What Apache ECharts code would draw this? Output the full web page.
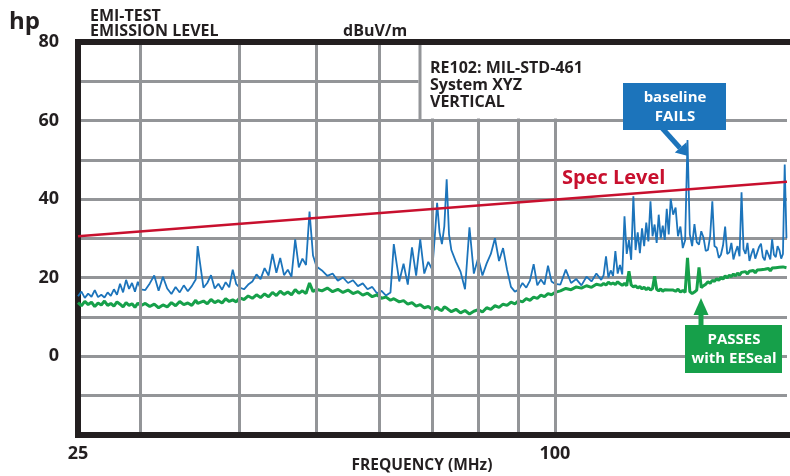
<!DOCTYPE html>
<html><head><meta charset="utf-8">
<script src="https://cdn.jsdelivr.net/npm/echarts@6/dist/echarts.min.js"></script>
<style>html,body{margin:0;padding:0;background:#fff}#c{width:790px;height:476px}</style>
</head><body><div id="c"></div>
<script>
// Frequency sample points (MHz)
const freqMHz = [
  25, 25.25, 25.5, 25.75, 26, 26.25, 26.5, 26.75, 27, 27.25, 27.5, 27.75, 28, 28.25, 28.5, 28.75, 29, 29.25, 29.5, 29.75, 30,
  30.4, 30.8, 31.2, 31.6, 32, 32.4, 32.8, 33.2, 33.6, 34, 34.4, 34.8, 35.2, 35.4, 36, 36.4, 36.8, 37.2, 37.6, 38, 38.4, 38.8, 39.2, 39.6, 40,
  40.5, 41, 41.5, 42, 42.5, 43, 43.5, 44, 44.5, 45, 45.5, 46, 46.5, 47, 47.5, 48, 48.5, 49, 49.5, 50,
  50.8, 51.6, 52.4, 53.2, 54, 54.8, 55.6, 56.4, 57.2, 58, 58.8, 59.6, 60.4, 61.2, 62, 62.6, 63.6, 64.4, 65.2, 66, 66.8, 67.6, 68.4, 69.2, 70,
  70.5, 71, 71.5, 72, 72.5, 73, 73.5, 74, 75, 76, 77, 78, 79, 80, 81, 82, 83, 84, 85, 86, 87, 88, 89, 90, 91, 92, 93, 94, 95, 96, 97, 98, 99, 100,
  101.6, 103.2, 104.8, 106.4, 108, 109.6, 111.2, 112.8, 114.4,
  115.2, 116, 116.8, 117.6, 118.4, 119.2, 120, 120.8, 121.6, 122.4, 123.2, 124, 124.8, 125.6, 126.4, 127.2,
  128, 128.8, 129.6, 130.4, 131.2, 132, 132.8, 133.6, 134.4, 135.2, 136, 136.8, 137.6, 138.4, 139.2, 140,
  141, 142, 143, 144, 145, 146, 147, 148, 149, 150, 151, 152, 153, 154, 155, 156, 157, 158, 159, 160,
  161, 162, 163, 164, 165, 166, 167, 168, 169, 170, 171, 172, 173, 174, 175, 176, 177, 178, 179, 180,
  181, 182, 183, 184, 185, 186, 187, 188, 189, 190, 191, 192, 193, 194, 195, 196
];
// Baseline emission (blue, dBuV/m)
const baselineDb = [
  15.2, 16.4, 14.8, 15.9, 15.1, 16.8, 15.0, 15.6, 14.9, 16.2, 15.3, 17.0, 15.6, 18.4, 16.2, 19.4, 17.1, 18.6, 16.4, 18.9, 17.0,
  16.8, 18.5, 20.5, 16.6, 20.2, 17.2, 15.8, 17.6, 16.2, 18.0, 16.5, 17.8, 19.5, 28.0, 17.4, 18.6, 20.6, 17.2, 18.4, 16.9, 18.8, 17.5, 22.0, 18.3, 17.4,
  17.0, 18.2, 19.0, 20.8, 19.6, 22.4, 20.5, 26.0, 21.2, 25.0, 20.6, 22.0, 20.2, 29.7, 22.6, 24.8, 23.2, 36.8, 25.6, 22.8,
  21.8, 20.4, 21.0, 19.2, 20.0, 18.6, 19.3, 17.8, 18.5, 17.0, 17.6, 16.0, 16.6, 15.4, 16.2, 28.5, 19.0, 23.5, 18.2, 27.7, 20.5, 29.7, 21.0, 24.0, 22.0,
  30.0, 39.0, 31.5, 28.5, 33.0, 45.0, 31.0, 27.0, 24.0, 21.5, 17.0, 32.8, 21.0, 25.0, 20.5, 23.6, 26.0, 30.0, 24.2, 27.5, 22.0, 17.6, 16.4, 16.9, 18.6, 17.4, 19.2, 23.4, 18.0, 19.5, 18.2, 23.0, 19.0, 18.4,
  18.2, 22.0, 18.6, 19.6, 18.0, 20.2, 19.0, 21.0, 19.4,
  20.6, 25.4, 20.0, 21.8, 20.4, 26.7, 21.0, 23.2, 20.8, 35.6, 26.0, 29.5, 24.5, 40.7, 27.0, 31.5,
  26.2, 32.5, 28.0, 34.0, 29.2, 39.4, 30.5, 33.5, 28.8, 36.0, 30.0, 33.2, 29.6, 37.5, 31.0, 40.0,
  36.0, 37.8, 30.5, 33.0, 27.5, 29.5, 55.0, 31.0, 28.0, 33.6, 29.0, 28.4, 31.8, 30.2, 26.8, 27.0, 30.5, 39.4, 28.0, 27.6,
  25.0, 25.8, 28.2, 33.0, 26.0, 26.4, 28.8, 24.6, 26.5, 28.0, 25.4, 41.7, 27.2, 26.0, 28.8, 24.2, 26.0, 27.4, 24.8, 25.0,
  27.8, 28.6, 25.2, 24.4, 27.0, 26.8, 24.6, 29.7, 25.8, 25.2, 28.0, 27.0, 24.8, 26.0, 48.8, 30.0
];
// Emission with EESeal (green, dBuV/m)
const eesealDb = [
  13.6, 12.8, 13.9, 13.1, 13.7, 12.6, 13.5, 13.0, 14.0, 12.9, 13.4, 12.7, 13.8, 13.2, 12.5, 13.6, 12.9, 13.3, 12.4, 13.5, 12.8,
  13.4, 12.6, 13.2, 12.3, 13.0, 12.5, 13.6, 12.8, 13.9, 13.1, 13.5, 12.9, 14.2, 13.4, 14.0, 13.3, 14.4, 13.6, 14.1, 13.5, 14.6, 13.9, 14.3, 13.8, 14.8,
  14.4, 15.3, 14.7, 15.6, 14.9, 15.8, 15.1, 16.2, 15.4, 16.5, 15.7, 16.3, 15.6, 16.9, 16.0, 16.6, 15.9, 18.6, 16.4, 17.0,
  16.6, 17.3, 16.4, 17.0, 16.2, 16.8, 15.9, 16.4, 15.5, 16.0, 15.1, 15.6, 14.7, 15.0, 14.2, 14.6, 13.8, 14.1, 13.2, 13.6, 12.7, 13.1, 12.3, 12.6, 11.9,
  12.0, 12.4, 11.8, 11.6, 12.5, 12.2, 11.7, 11.3, 11.9, 11.0, 11.6, 10.7, 11.4, 11.8, 11.2, 12.3, 11.9, 12.8, 12.4, 13.2, 12.9, 13.7, 13.3, 14.1, 13.8, 14.6, 14.2, 15.0, 14.7, 15.5, 15.1, 15.9, 15.6, 16.2,
  16.6, 17.2, 16.9, 17.6, 17.3, 17.9, 17.5, 18.3, 18.0,
  18.5, 18.1, 18.8, 18.3, 18.6, 18.2, 18.9, 18.4, 18.0, 18.5, 17.9, 21.6, 18.1, 17.6, 17.9, 17.3,
  17.7, 17.1, 17.5, 16.9, 17.4, 16.8, 17.2, 20.3, 17.0, 16.6, 17.1, 16.5, 16.9, 16.4, 16.8, 16.3,
  16.8, 16.5, 17.0, 16.3, 16.7, 16.2, 25.0, 16.4, 15.9, 16.3, 16.8, 22.6, 17.4, 17.9, 18.3, 18.9, 18.5, 19.3, 19.0, 19.7,
  19.3, 20.0, 19.6, 20.4, 19.9, 20.6, 20.2, 20.9, 20.4, 21.1, 20.6, 21.3, 20.8, 21.5, 20.9, 21.6, 21.1, 21.8, 21.2, 21.9,
  21.4, 22.0, 21.5, 22.1, 21.6, 22.3, 21.7, 22.4, 21.9, 22.5, 22.0, 22.6, 22.1, 22.7, 22.2, 22.5
];
// Spec limit line
const specFreq = [25, 196.3];
const specDb = [30.5, 44.4];
// Axis ticks
const yTickLabels = [0, 20, 40, 60, 80];
const xTickLabels = [25, 100];
const gridFreqs = [30, 40, 50, 60, 70, 80, 90, 100];

const BLACK = '#231f20', GRAY = '#939598';
const BLUE = '#1c74bb', GREEN = '#16a04a', RED = '#c8102e';
const FONT = '"Open Sans", "DejaVu Sans", sans-serif';

const chart = echarts.init(document.getElementById('c'), null, {renderer: 'canvas'});

function txt(x, y, text, size, color, align) {
  return {
    type: 'text', z: 50,
    style: { x: x, y: y, text: text, fill: color || BLACK, font: 'bold ' + size + 'px ' + FONT,
      align: align || 'left', verticalAlign: 'middle' }
  };
}

const option = {
  animation: false,
  backgroundColor: '#fff',
  grid: { left: 78, right: 0, top: 42, bottom: 41.5, containLabel: false },
  xAxis: [
    {
      type: 'log', logBase: 10, min: 25, max: 196.3, z: 10,
      axisLine: { show: true, onZero: false, lineStyle: { color: BLACK, width: 6, cap: 'square' } },
      axisTick: { show: false }, splitLine: { show: false }, minorSplitLine: { show: false },
      axisLabel: {
        show: true, margin: 10, color: BLACK, fontSize: 18, fontWeight: 'bold', fontFamily: FONT,
        showMinLabel: true, showMaxLabel: true,
        formatter: function (v) {
          for (const t of xTickLabels) if (Math.abs(v - t) < 0.5) return String(t);
          return '';
        }
      }
    },
    {
      type: 'log', logBase: 10, min: 25, max: 196.3, position: 'top', z: 10,
      axisLine: { show: true, onZero: false, lineStyle: { color: BLACK, width: 6, cap: 'square' } },
      axisTick: { show: false }, splitLine: { show: false }, axisLabel: { show: false }
    }
  ],
  yAxis: {
    type: 'value', min: -20, max: 80, interval: 10,
    axisLine: { show: true, onZero: false, lineStyle: { color: BLACK, width: 6, cap: 'square' } },
    axisTick: { show: false },
    splitLine: { show: true, showMinLine: false, showMaxLine: false, lineStyle: { color: GRAY, width: 3 } },
    axisLabel: {
      margin: 19, color: BLACK, fontSize: 18, fontWeight: 'bold', fontFamily: FONT,
      formatter: function (v) { return yTickLabels.indexOf(v) >= 0 ? String(v) : ''; }
    }
  },
  series: [
    {
      name: 'grid', type: 'line', data: [], z: 1, silent: true,
      markLine: {
        silent: true, symbol: ['none', 'none'], animation: false,
        label: { show: false },
        lineStyle: { color: GRAY, width: 3, type: 'solid' },
        emphasis: { disabled: true },
        data: gridFreqs.map(function (f) { return { xAxis: f }; })
      }
    },
    {
      name: 'baseline', type: 'line', z: 3, symbol: 'none', silent: true,
      lineStyle: { color: BLUE, width: 1.8 },
      data: freqMHz.map(function (f, i) { return [f, baselineDb[i]]; })
    },
    {
      name: 'EESeal', type: 'line', z: 4, symbol: 'none', silent: true,
      lineStyle: { color: GREEN, width: 3 },
      data: freqMHz.map(function (f, i) { return [f, eesealDb[i]]; })
    },
    {
      name: 'Spec Level', type: 'line', z: 5, symbol: 'none', silent: true,
      lineStyle: { color: RED, width: 2.4 },
      data: specFreq.map(function (f, i) { return [f, specDb[i]]; })
    }
  ],
  graphic: [
    // header texts
    txt(9, 22, 'hp', 24),
    txt(90, 16.5, 'EMI-TEST', 16),
    txt(90, 31, 'EMISSION LEVEL', 16),
    txt(343, 31, 'dBuV/m', 16),
    txt(422, 466, 'FREQUENCY (MHz)', 15.5, BLACK, 'center'),
    // info panel
    { type: 'rect', z: 8, shape: { x: 418.5, y: 44.5, width: 375, height: 74 }, style: { fill: '#fff' } },
    { type: 'line', z: 9, shape: { x1: 420, y1: 42, x2: 420, y2: 120 }, style: { stroke: GRAY, lineWidth: 3 } },
    txt(430, 68, 'RE102: MIL-STD-461', 16),
    txt(430, 85, 'System XYZ', 16),
    txt(430, 102, 'VERTICAL', 16),
    // spec label
    txt(562, 178, 'Spec Level', 20, RED),
    // baseline FAILS callout
    { type: 'rect', z: 40, shape: { x: 623, y: 83, width: 103, height: 47 }, style: { fill: BLUE } },
    txt(675, 98, 'baseline', 15, '#fff', 'center'),
    txt(675, 116.5, 'FAILS', 15, '#fff', 'center'),
    { type: 'line', z: 40, shape: { x1: 662, y1: 128, x2: 680, y2: 148 }, style: { stroke: BLUE, lineWidth: 5 } },
    { type: 'polygon', z: 40, shape: { points: [[688, 156], [686.4, 142.3], [674.8, 152.5]] }, style: { fill: BLUE } },
    // PASSES callout
    { type: 'rect', z: 40, shape: { x: 685, y: 325, width: 97, height: 48 }, style: { fill: GREEN } },
    txt(734, 340, 'PASSES', 15, '#fff', 'center'),
    txt(734, 358.5, 'with EESeal', 15, '#fff', 'center'),
    { type: 'line', z: 40, shape: { x1: 701, y1: 327, x2: 701, y2: 312 }, style: { stroke: GREEN, lineWidth: 5 } },
    { type: 'polygon', z: 40, shape: { points: [[701, 298], [693.5, 315], [708.5, 315]] }, style: { fill: GREEN } }
  ]
};
chart.setOption(option);
</script>
</body></html>
